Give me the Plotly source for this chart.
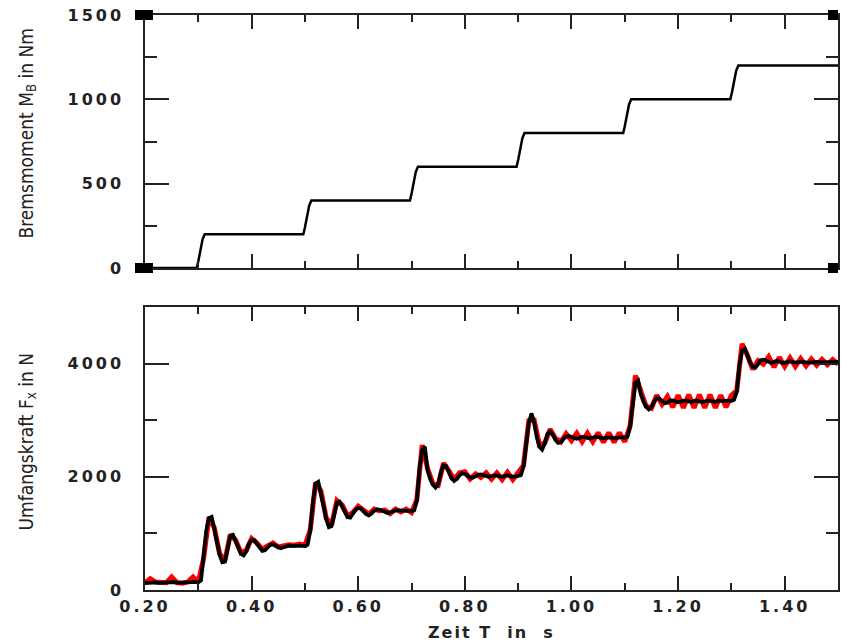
import plotly.graph_objects as go

# ---------------- data ----------------
# Upper panel: braking moment M_B [Nm] over time [s]
t_moment = [0.200, 0.297, 0.300, 0.304, 0.308, 0.312,
            0.497, 0.500, 0.504, 0.508, 0.512,
            0.697, 0.700, 0.704, 0.708, 0.712,
            0.897, 0.900, 0.904, 0.908, 0.912,
            1.097, 1.100, 1.104, 1.108, 1.112,
            1.298, 1.301, 1.305, 1.309, 1.313, 1.500]
moment = [0, 0, 40, 110, 170, 200,
          200, 240, 310, 370, 400,
          400, 440, 510, 570, 600,
          600, 640, 710, 770, 800,
          800, 840, 910, 970, 1000,
          1000, 1040, 1110, 1170, 1200, 1200]

# Lower panel: circumferential force F_x [N], sampled every 0.005 s from 0.20 s (black)
fx_black = [
    120, 125, 135, 145, 135, 125, 130, 125, 130, 140,      # 0.200-0.245
    145, 140, 130, 125, 130, 135, 130, 140, 145, 140,      # 0.250-0.295
    135, 170, 550, 1050, 1270, 1290, 1080, 820, 620, 490,  # 0.300-0.345
    500, 740, 950, 970, 870, 740, 640, 610, 680, 820,      # 0.350-0.395
    880, 880, 810, 730, 690, 700, 760, 800, 805, 780,      # 0.400-0.445
    750, 740, 755, 775, 785, 780, 775, 780, 785, 780,      # 0.450-0.495
    775, 800, 1050, 1550, 1880, 1910, 1720, 1480, 1250, 1110,  # 0.500-0.545
    1130, 1340, 1540, 1560, 1480, 1370, 1290, 1280, 1340, 1420,  # 0.550-0.595
    1450, 1440, 1390, 1340, 1320, 1350, 1400, 1420, 1420, 1395,  # 0.600-0.645
    1370, 1360, 1370, 1390, 1405, 1405, 1400, 1405, 1400, 1390,  # 0.650-0.695
    1395, 1410, 1580, 2150, 2470, 2530, 2120, 1960, 1860, 1810,  # 0.700-0.745
    1870, 2080, 2200, 2190, 2080, 1970, 1930, 1960, 2030, 2060,  # 0.750-0.795
    2050, 2010, 1985, 1985, 2010, 2035, 2040, 2025, 2010, 2000,  # 0.800-0.845
    2010, 2025, 2020, 2005, 2000, 2015, 2025, 2015, 2000, 2005,  # 0.850-0.895
    2020, 2030, 2180, 2560, 2950, 3120, 2960, 2700, 2530, 2480,  # 0.900-0.945
    2590, 2760, 2800, 2740, 2650, 2600, 2610, 2670, 2710, 2720,  # 0.950-0.995
    2705, 2680, 2670, 2685, 2705, 2700, 2680, 2675, 2690, 2705,  # 1.000-1.045
    2700, 2685, 2680, 2690, 2700, 2695, 2680, 2685, 2700, 2700,  # 1.050-1.095
    2690, 2710, 2880, 3350, 3660, 3700, 3460, 3330, 3240, 3190,  # 1.100-1.145
    3230, 3330, 3390, 3380, 3340, 3300, 3310, 3345, 3350, 3330,  # 1.150-1.195
    3315, 3325, 3345, 3345, 3325, 3320, 3340, 3345, 3330, 3320,  # 1.200-1.245
    3330, 3345, 3340, 3325, 3325, 3340, 3340, 3330, 3325, 3335,  # 1.250-1.295
    3340, 3360, 3500, 3960, 4230, 4260, 4120, 4020, 3950, 3930,  # 1.300-1.345
    3990, 4060, 4070, 4050, 4020, 4010, 4030, 4045, 4035, 4015,  # 1.350-1.395
    4015, 4035, 4040, 4025, 4015, 4020, 4035, 4035, 4020, 4015,  # 1.400-1.445
    4025, 4035, 4030, 4020, 4020, 4030, 4030, 4025, 4020, 4025,  # 1.450-1.495
    4030,                                                  # 1.500
]

# Lower panel: second F_x curve (red), sampled every 0.01 s from 0.20 s
fx_red = [
    130, 200, 140, 125, 130, 230, 130, 120, 140, 230,      # 0.20-0.29
    140, 560, 1290, 1100, 640, 520, 980, 880, 660, 700,    # 0.30-0.39
    910, 830, 720, 780, 830, 760, 780, 800, 790, 810,      # 0.40-0.49
    790, 1060, 1900, 1750, 1270, 1150, 1580, 1500, 1310, 1370,  # 0.50-0.59
    1480, 1410, 1340, 1430, 1400, 1410, 1350, 1430, 1380, 1430,  # 0.60-0.69
    1370, 1600, 2560, 2150, 1880, 1850, 2240, 2110, 1950, 2070,  # 0.70-0.79
    2090, 1960, 2050, 1990, 2070, 1960, 2070, 1950, 2080, 1950,  # 0.80-0.89
    2070, 2200, 2990, 3000, 2560, 2600, 2840, 2680, 2620, 2760,  # 0.90-0.99
    2640, 2770, 2620, 2770, 2620, 2780, 2610, 2780, 2610, 2780,  # 1.00-1.09
    2620, 2900, 3790, 3500, 3250, 3210, 3440, 3280, 3420, 3230,  # 1.10-1.19
    3440, 3220, 3450, 3220, 3450, 3220, 3450, 3220, 3440, 3230,  # 1.20-1.29
    3440, 3520, 4350, 4150, 3900, 4050, 3990, 4120, 3940, 4110,  # 1.30-1.39
    3950, 4100, 3950, 4090, 3960, 4080, 3970, 4075, 3980, 4070,  # 1.40-1.49
    3990,                                                  # 1.50
]

x_ticklabels = ["0.20", "0.40", "0.60", "0.80", "1.00", "1.20", "1.40"]
y1_ticklabels = ["0", "500", "1000", "1500"]
y2_ticklabels = ["0", "2000", "4000"]


def spaced(labels, px=3):
    return {s: '<span style="letter-spacing:%dpx">%s</span>' % (px, s) for s in labels}


# ---------------- figure ----------------
fig = go.Figure()
fig.add_trace(go.Scatter(x=t_moment, y=moment, xaxis="x", yaxis="y", mode="lines",
                         line=dict(color="black", width=2.5), showlegend=False))
fig.add_trace(go.Scatter(y=fx_red, x0=0.2, dx=0.01, xaxis="x2", yaxis="y2", mode="lines",
                         line=dict(color="#ff0000", width=5), showlegend=False))
fig.add_trace(go.Scatter(y=fx_black, x0=0.2, dx=0.005, xaxis="x2", yaxis="y2", mode="lines",
                         line=dict(color="black", width=3.8), showlegend=False))

axcol = "#222222"
tickfont = dict(family="DejaVu Sans", size=16, color=axcol, weight="bold")


def axis(rng, dtick, tick0, ticklen, mdtick, mlen, **kw):
    d = dict(range=rng, tickmode="linear", tick0=tick0, dtick=dtick,
             showline=True, linecolor=axcol, linewidth=1.5, mirror="allticks",
             ticks="inside", ticklen=ticklen, tickcolor=axcol, tickwidth=1.8,
             minor=dict(tickmode="linear", tick0=tick0, dtick=mdtick, ticks="inside",
                        ticklen=mlen, tickcolor=axcol, tickwidth=1.8, showgrid=False),
             showgrid=False, zeroline=False, tickfont=tickfont)
    d.update(kw)
    return d


fig.update_layout(
    width=841, height=644,
    margin=dict(l=145, r=1, t=15, b=54),
    paper_bgcolor="white", plot_bgcolor="white",
    xaxis=axis([0.2, 1.5], 0.2, 0.2, 14, 0.1, 7,
               domain=[0, 1], anchor="y", showticklabels=False),
    yaxis=axis([0, 1500], 500, 0, 24, 250, 12,
               domain=[0.56, 1], anchor="x", labelalias=spaced(y1_ticklabels),
               ticklabelstandoff=16),
    xaxis2=axis([0.2, 1.5], 0.2, 0.2, 14, 0.1, 7,
                domain=[0, 1], anchor="y2", tickformat=".2f",
                labelalias=spaced(x_ticklabels), ticklabelstandoff=1),
    yaxis2=axis([0, 5000], 2000, 0, 24, 1000, 12,
                domain=[0, 0.4922], anchor="x2", labelalias=spaced(y2_ticklabels),
                ticklabelstandoff=16),
)

title_font = dict(family="Liberation Sans Narrow, DejaVu Sans Condensed, Liberation Sans",
                  size=19, color=axcol)
fig.add_annotation(text="Bremsmoment M<sub>B</sub> in Nm", textangle=-90,
                   xref="paper", x=0, xanchor="center", xshift=-118,
                   yref="y domain", y=0.5, yanchor="middle", yshift=8,
                   showarrow=False, font=title_font)
fig.add_annotation(text="Umfangskraft F<sub>x</sub> in N", textangle=-90,
                   xref="paper", x=0, xanchor="center", xshift=-118,
                   yref="y2 domain", y=0.5, yanchor="middle", yshift=7,
                   showarrow=False, font=title_font)
fig.add_annotation(text='<span style="letter-spacing:2px">Zeit\u00a0T\u00a0\u00a0in\u00a0\u00a0s</span>',
                   xref="x2 domain", x=0.5, xanchor="center",
                   yref="paper", y=0, yanchor="middle", yshift=-42,
                   showarrow=False,
                   font=dict(family="DejaVu Sans", size=16, color=axcol, weight="bold"))

# small filled squares at the corners of the upper frame
for xa, x0p, x1p in [(0, -10, 8), (1, -10, 0)]:
    for ya in [0, 1]:
        fig.add_shape(type="rect", xref="x domain", yref="y domain",
                      xsizemode="pixel", ysizemode="pixel",
                      xanchor=xa, yanchor=ya, x0=x0p, x1=x1p, y0=-5, y1=5,
                      fillcolor="black", line=dict(width=0))

fig.write_html("out.html")
